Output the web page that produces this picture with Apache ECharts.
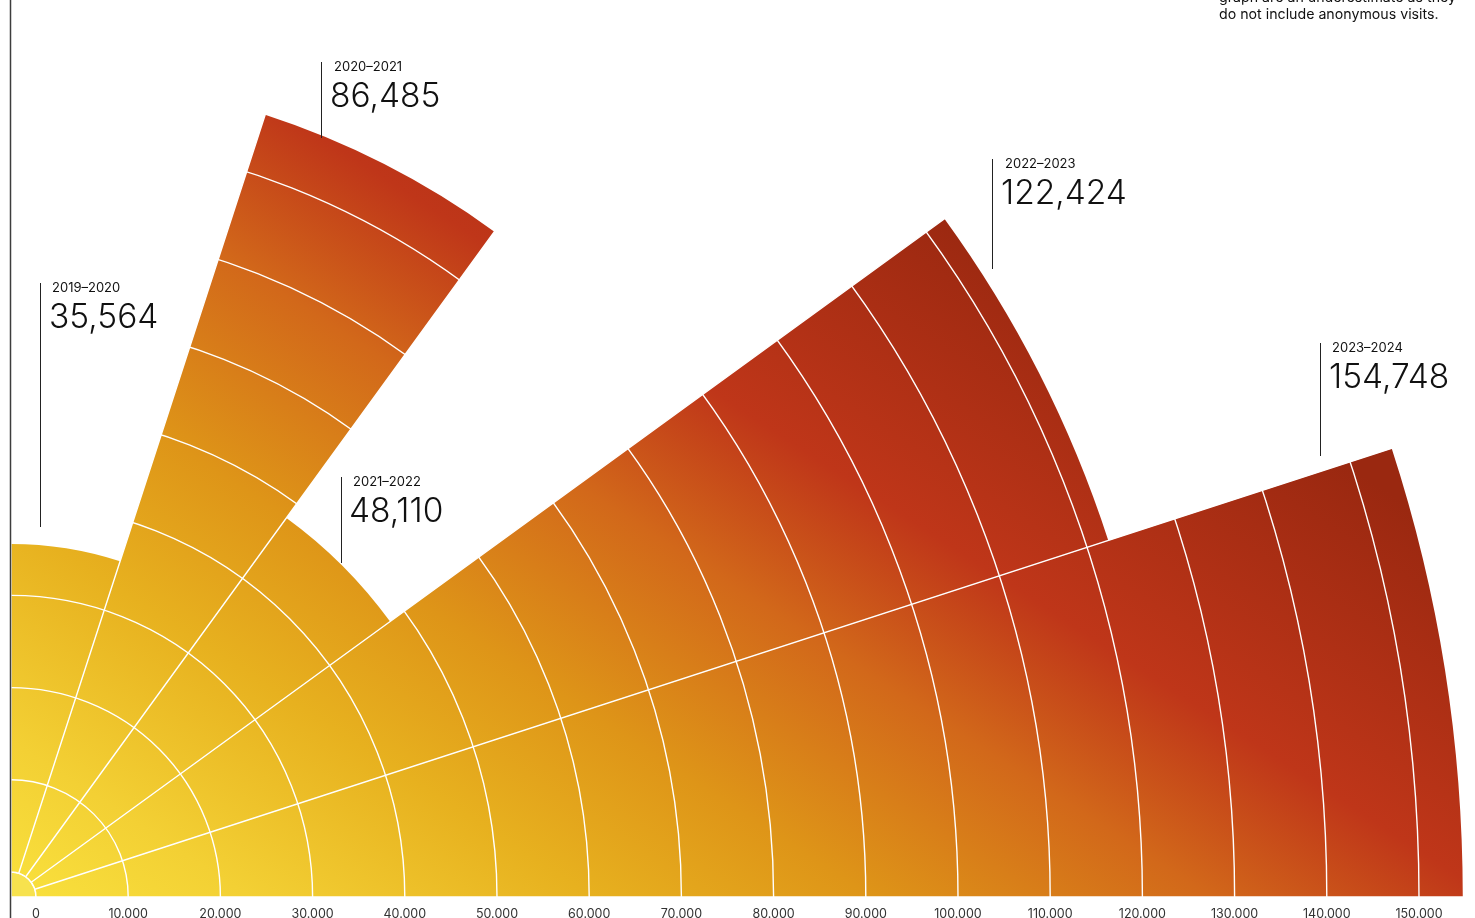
<!DOCTYPE html>
<html><head><meta charset="utf-8">
<script src="https://cdn.jsdelivr.net/npm/echarts@6/dist/echarts.min.js"></script>
<style>html,body{margin:0;padding:0;background:#fff;overflow:hidden}#c{width:1475px;height:918px}</style>
</head><body><div id="c"></div>
<script>
// ---- data ----
const seasons = ['2019–2020', '2020–2021', '2021–2022', '2022–2023', '2023–2024'];
const visits = [35564, 86485, 48110, 122424, 154748];
const radiusMin = 0;
const radiusMax = 160000;
const radiusStep = 10000;
const noteLines = ['graph are an underestimate as they', 'do not include anonymous visits.'];

// ---- layout ----
const CX = 11, CY = 897, R0 = 25;
const PX_PER_UNIT = 1383 / 150000;
const R1 = R0 + (radiusMax - radiusMin) * PX_PER_UNIT;
const FONT = 'Inter, "Noto Sans", sans-serif';
// annotation placement, same order as seasons
const annotLayout = [
  { lineX: 40.5, y1: 283, y2: 527, tx: 52, ty: 288, nx: 49, ny: 318 },
  { lineX: 321.5, y1: 62, y2: 138, tx: 334, ty: 67, nx: 330, ny: 97 },
  { lineX: 341.5, y1: 477, y2: 563, tx: 353, ty: 482, nx: 349, ny: 512 },
  { lineX: 992.5, y1: 159, y2: 269, tx: 1005, ty: 164, nx: 1001, ny: 194 },
  { lineX: 1320.5, y1: 343, y2: 456, tx: 1332, ty: 348, nx: 1329, ny: 378 }
];

const chart = echarts.init(document.getElementById('c'), null, { renderer: 'canvas' });

const grad = new echarts.graphic.LinearGradient(CX, CY, 605, -17, [
  { offset: 0, color: '#f9e13d' },
  { offset: 0.12, color: '#f3d034' },
  { offset: 0.29, color: '#e7b11f' },
  { offset: 0.43, color: '#de9518' },
  { offset: 0.6, color: '#d2681a' },
  { offset: 0.74, color: '#bf3619' },
  { offset: 1, color: '#9a2810' }
], true);

const graphics = [];
graphics.push({
  type: 'sector', z: 1, silent: true,
  shape: { cx: CX, cy: CY, r: R0, r0: 0, startAngle: -Math.PI / 2, endAngle: 0, clockwise: true },
  style: { fill: '#f7e24e', stroke: '#fff', lineWidth: 1.5 }
});
graphics.push({
  type: 'line', z: 20, silent: true,
  shape: { x1: 10.5, y1: 0, x2: 10.5, y2: 918 },
  style: { stroke: '#3d3d3d', lineWidth: 1.5 }
});
seasons.forEach((s, i) => {
  const L = annotLayout[i];
  graphics.push({ type: 'line', z: 20, silent: true,
    shape: { x1: L.lineX, y1: L.y1, x2: L.lineX, y2: L.y2 },
    style: { stroke: '#222', lineWidth: 1 } });
  graphics.push({ type: 'text', z: 20, silent: true, x: L.tx, y: L.ty,
    style: { text: s, fill: '#111', font: '13px ' + FONT, textVerticalAlign: 'middle', textAlign: 'left' } });
  graphics.push({ type: 'text', z: 20, silent: true, x: L.nx, y: L.ny,
    style: { text: visits[i].toLocaleString('en-US'), fill: '#111', font: '300 33.5px ' + FONT, textVerticalAlign: 'middle', textAlign: 'left' } });
});
noteLines.forEach((t, i) => {
  graphics.push({ type: 'text', z: 20, silent: true, x: 1219, y: -2 + i * 17,
    style: { text: t, fill: '#111', font: '14.2px ' + FONT, textVerticalAlign: 'middle', textAlign: 'left' } });
});

chart.setOption({
  animation: false,
  backgroundColor: '#fff',
  polar: { center: [CX, CY], radius: [R0, R1] },
  angleAxis: {
    type: 'category',
    data: seasons.slice().reverse(),
    startAngle: 0,
    endAngle: 90,
    clockwise: false,
    boundaryGap: true,
    z: 5,
    axisLine: { show: false },
    axisTick: { show: false },
    axisLabel: { show: false },
    splitLine: { show: true, lineStyle: { color: '#fff', width: 1.4 } }
  },
  radiusAxis: {
    type: 'value',
    min: radiusMin,
    max: radiusMax,
    interval: radiusStep,
    z: 5,
    axisLine: { show: false },
    axisTick: { show: false },
    axisLabel: {
      show: true,
      showMaxLabel: false,
      margin: -17,
      verticalAlign: 'middle',
      color: '#333',
      fontFamily: FONT,
      fontSize: 12.5,
      formatter: v => v.toLocaleString('de-DE')
    },
    splitLine: { show: true, lineStyle: { color: '#fff', width: 1.4 } }
  },
  series: [{
    type: 'bar',
    coordinateSystem: 'polar',
    data: visits.slice().reverse(),
    barCategoryGap: '0%',
    z: 1,
    itemStyle: { color: grad },
    silent: true
  }],
  graphic: { elements: graphics }
});
</script>
</body></html>
